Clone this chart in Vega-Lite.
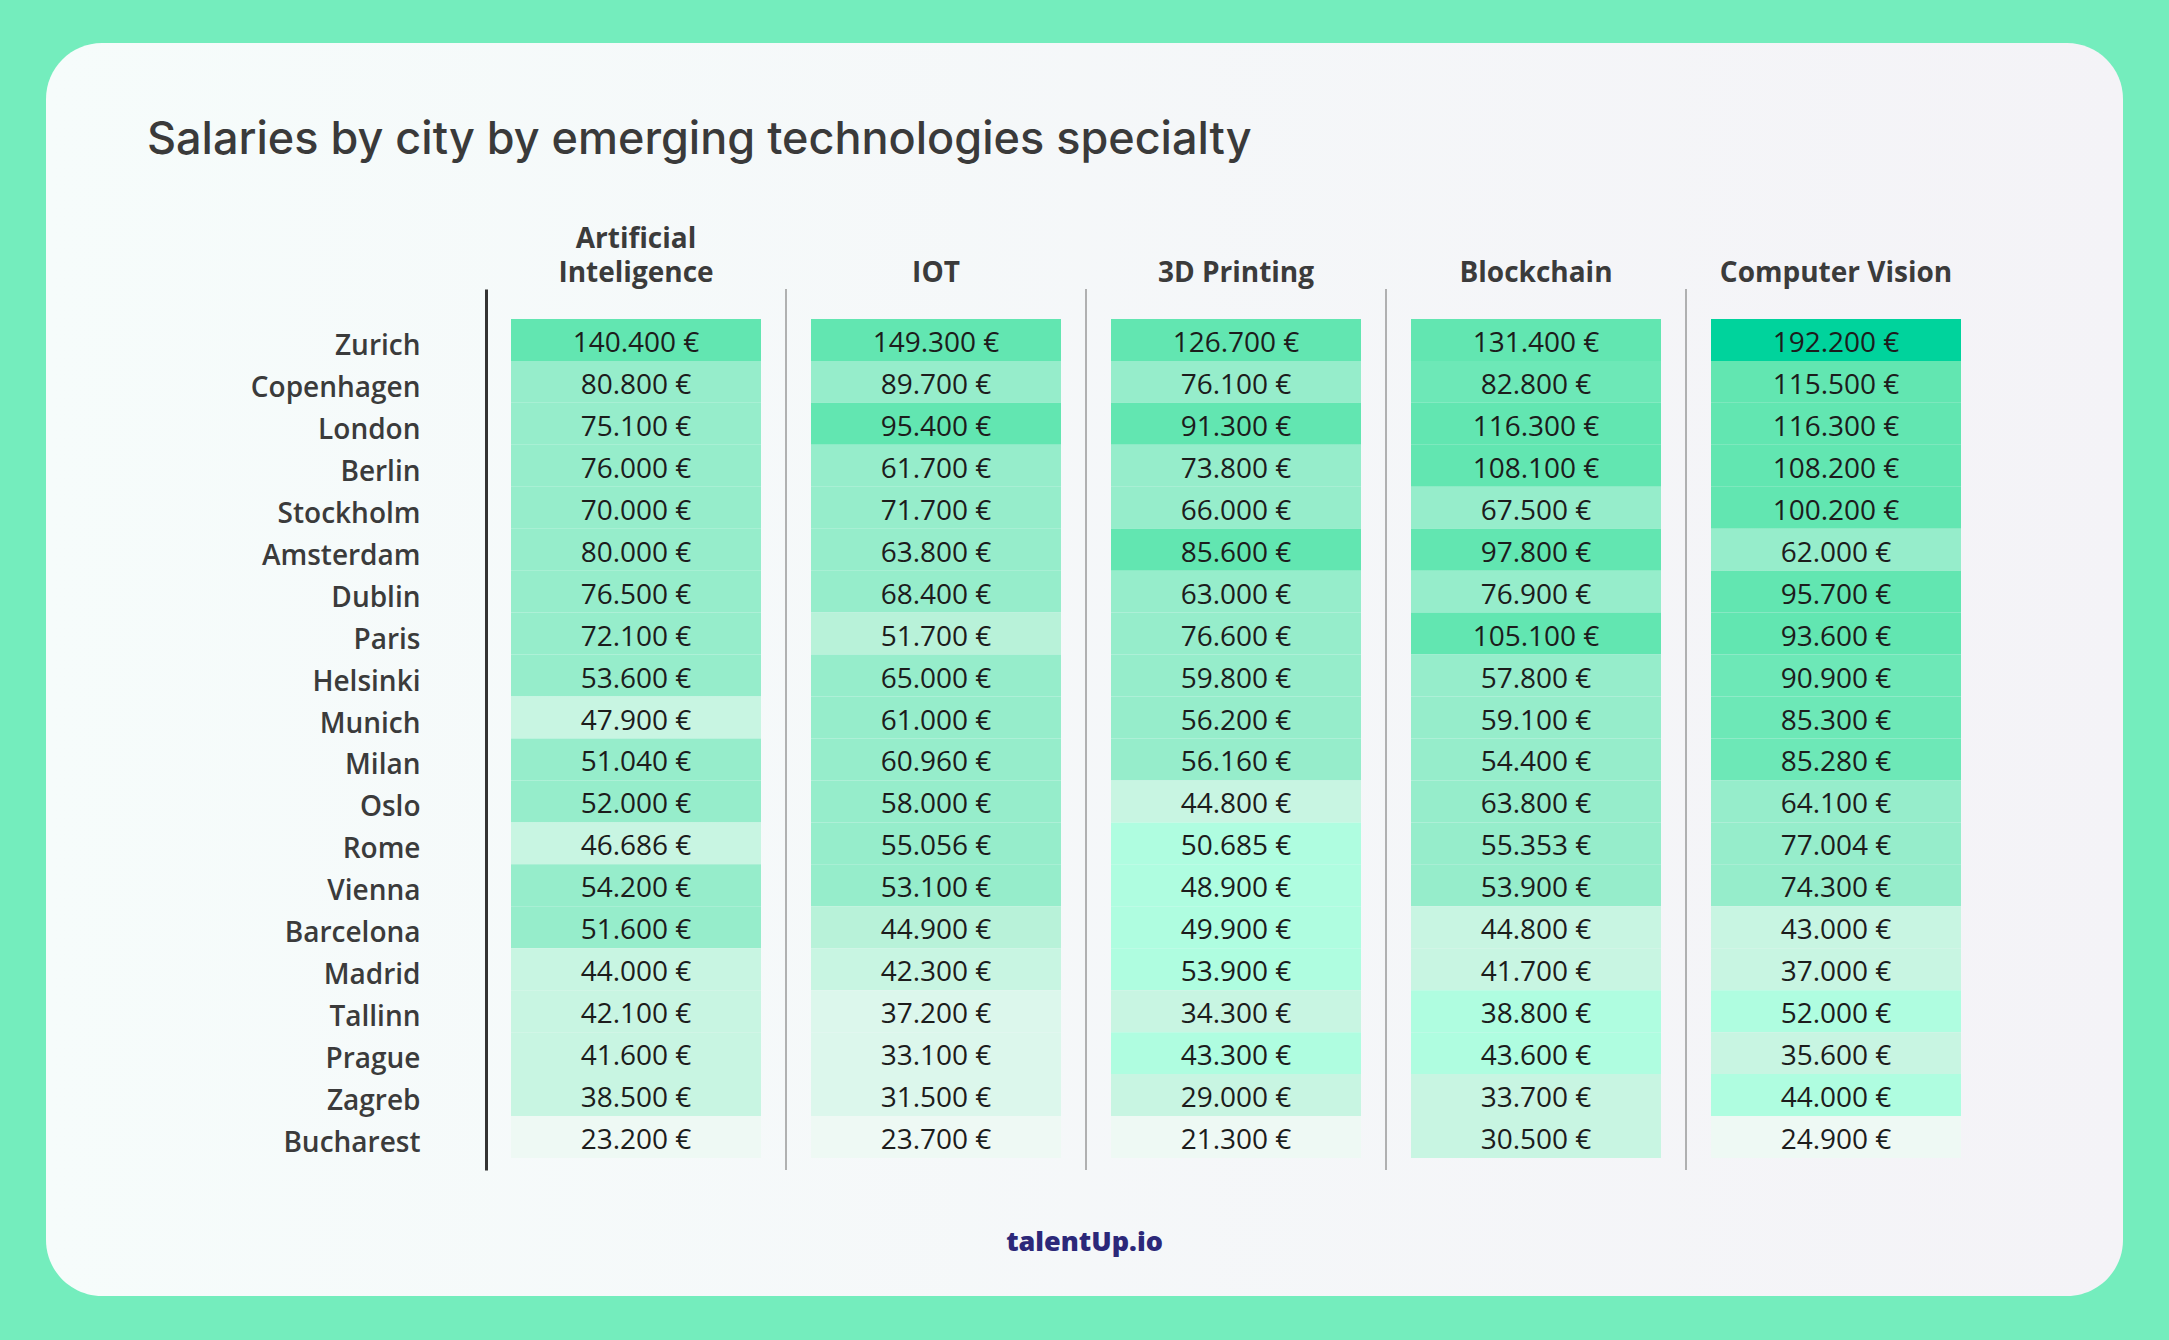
{
  "$schema": "https://vega.github.io/schema/vega-lite/v6.json",
  "width": 2077,
  "height": 1253,
  "autosize": "none",
  "padding": {"left": 46, "top": 43, "right": 46, "bottom": 44},
  "background": "#74edbd",
  "config": {
    "locale": {"number": {"decimal": ",", "thousands": ".", "grouping": [3], "currency": ["", " €"]}},
    "view": {
      "fill": {"gradient": "linear", "x1": 0, "y1": 0, "x2": 1, "y2": 0, "stops": [{"offset": 0, "color": "#f6fcfb"}, {"offset": 1, "color": "#f4f3f7"}]},
      "stroke": null,
      "cornerRadius": 56
    }
  },
  "title": {
    "text": "Salaries by city by emerging technologies specialty",
    "anchor": "start",
    "frame": "group",
    "orient": "top",
    "offset": 0,
    "baseline": "alphabetic",
    "dx": 101,
    "dy": 156,
    "font": "Inter",
    "fontSize": 45,
    "fontWeight": 500,
    "color": "#3a3a3a"
  },
  "datasets": {
    "cells": [
      {"city": "Zurich", "specialty": "Artificial Inteligence", "salary": 140400, "tier": "t2"},
      {"city": "Copenhagen", "specialty": "Artificial Inteligence", "salary": 80800, "tier": "t4"},
      {"city": "London", "specialty": "Artificial Inteligence", "salary": 75100, "tier": "t4"},
      {"city": "Berlin", "specialty": "Artificial Inteligence", "salary": 76000, "tier": "t4"},
      {"city": "Stockholm", "specialty": "Artificial Inteligence", "salary": 70000, "tier": "t4"},
      {"city": "Amsterdam", "specialty": "Artificial Inteligence", "salary": 80000, "tier": "t4"},
      {"city": "Dublin", "specialty": "Artificial Inteligence", "salary": 76500, "tier": "t4"},
      {"city": "Paris", "specialty": "Artificial Inteligence", "salary": 72100, "tier": "t4"},
      {"city": "Helsinki", "specialty": "Artificial Inteligence", "salary": 53600, "tier": "t4"},
      {"city": "Munich", "specialty": "Artificial Inteligence", "salary": 47900, "tier": "t6"},
      {"city": "Milan", "specialty": "Artificial Inteligence", "salary": 51040, "tier": "t4"},
      {"city": "Oslo", "specialty": "Artificial Inteligence", "salary": 52000, "tier": "t4"},
      {"city": "Rome", "specialty": "Artificial Inteligence", "salary": 46686, "tier": "t6"},
      {"city": "Vienna", "specialty": "Artificial Inteligence", "salary": 54200, "tier": "t4"},
      {"city": "Barcelona", "specialty": "Artificial Inteligence", "salary": 51600, "tier": "t4"},
      {"city": "Madrid", "specialty": "Artificial Inteligence", "salary": 44000, "tier": "t6"},
      {"city": "Tallinn", "specialty": "Artificial Inteligence", "salary": 42100, "tier": "t6"},
      {"city": "Prague", "specialty": "Artificial Inteligence", "salary": 41600, "tier": "t6"},
      {"city": "Zagreb", "specialty": "Artificial Inteligence", "salary": 38500, "tier": "t6"},
      {"city": "Bucharest", "specialty": "Artificial Inteligence", "salary": 23200, "tier": "t9"},
      {"city": "Zurich", "specialty": "IOT", "salary": 149300, "tier": "t2"},
      {"city": "Copenhagen", "specialty": "IOT", "salary": 89700, "tier": "t4"},
      {"city": "London", "specialty": "IOT", "salary": 95400, "tier": "t2"},
      {"city": "Berlin", "specialty": "IOT", "salary": 61700, "tier": "t4"},
      {"city": "Stockholm", "specialty": "IOT", "salary": 71700, "tier": "t4"},
      {"city": "Amsterdam", "specialty": "IOT", "salary": 63800, "tier": "t4"},
      {"city": "Dublin", "specialty": "IOT", "salary": 68400, "tier": "t4"},
      {"city": "Paris", "specialty": "IOT", "salary": 51700, "tier": "t5"},
      {"city": "Helsinki", "specialty": "IOT", "salary": 65000, "tier": "t4"},
      {"city": "Munich", "specialty": "IOT", "salary": 61000, "tier": "t4"},
      {"city": "Milan", "specialty": "IOT", "salary": 60960, "tier": "t4"},
      {"city": "Oslo", "specialty": "IOT", "salary": 58000, "tier": "t4"},
      {"city": "Rome", "specialty": "IOT", "salary": 55056, "tier": "t4"},
      {"city": "Vienna", "specialty": "IOT", "salary": 53100, "tier": "t4"},
      {"city": "Barcelona", "specialty": "IOT", "salary": 44900, "tier": "t5"},
      {"city": "Madrid", "specialty": "IOT", "salary": 42300, "tier": "t6"},
      {"city": "Tallinn", "specialty": "IOT", "salary": 37200, "tier": "t8"},
      {"city": "Prague", "specialty": "IOT", "salary": 33100, "tier": "t8"},
      {"city": "Zagreb", "specialty": "IOT", "salary": 31500, "tier": "t8"},
      {"city": "Bucharest", "specialty": "IOT", "salary": 23700, "tier": "t9"},
      {"city": "Zurich", "specialty": "3D Printing", "salary": 126700, "tier": "t2"},
      {"city": "Copenhagen", "specialty": "3D Printing", "salary": 76100, "tier": "t4"},
      {"city": "London", "specialty": "3D Printing", "salary": 91300, "tier": "t2"},
      {"city": "Berlin", "specialty": "3D Printing", "salary": 73800, "tier": "t4"},
      {"city": "Stockholm", "specialty": "3D Printing", "salary": 66000, "tier": "t4"},
      {"city": "Amsterdam", "specialty": "3D Printing", "salary": 85600, "tier": "t2"},
      {"city": "Dublin", "specialty": "3D Printing", "salary": 63000, "tier": "t4"},
      {"city": "Paris", "specialty": "3D Printing", "salary": 76600, "tier": "t4"},
      {"city": "Helsinki", "specialty": "3D Printing", "salary": 59800, "tier": "t4"},
      {"city": "Munich", "specialty": "3D Printing", "salary": 56200, "tier": "t4"},
      {"city": "Milan", "specialty": "3D Printing", "salary": 56160, "tier": "t4"},
      {"city": "Oslo", "specialty": "3D Printing", "salary": 44800, "tier": "t6"},
      {"city": "Rome", "specialty": "3D Printing", "salary": 50685, "tier": "t7"},
      {"city": "Vienna", "specialty": "3D Printing", "salary": 48900, "tier": "t7"},
      {"city": "Barcelona", "specialty": "3D Printing", "salary": 49900, "tier": "t7"},
      {"city": "Madrid", "specialty": "3D Printing", "salary": 53900, "tier": "t7"},
      {"city": "Tallinn", "specialty": "3D Printing", "salary": 34300, "tier": "t6"},
      {"city": "Prague", "specialty": "3D Printing", "salary": 43300, "tier": "t7"},
      {"city": "Zagreb", "specialty": "3D Printing", "salary": 29000, "tier": "t6"},
      {"city": "Bucharest", "specialty": "3D Printing", "salary": 21300, "tier": "t9"},
      {"city": "Zurich", "specialty": "Blockchain", "salary": 131400, "tier": "t2"},
      {"city": "Copenhagen", "specialty": "Blockchain", "salary": 82800, "tier": "t3"},
      {"city": "London", "specialty": "Blockchain", "salary": 116300, "tier": "t2"},
      {"city": "Berlin", "specialty": "Blockchain", "salary": 108100, "tier": "t2"},
      {"city": "Stockholm", "specialty": "Blockchain", "salary": 67500, "tier": "t4"},
      {"city": "Amsterdam", "specialty": "Blockchain", "salary": 97800, "tier": "t2"},
      {"city": "Dublin", "specialty": "Blockchain", "salary": 76900, "tier": "t4"},
      {"city": "Paris", "specialty": "Blockchain", "salary": 105100, "tier": "t2"},
      {"city": "Helsinki", "specialty": "Blockchain", "salary": 57800, "tier": "t4"},
      {"city": "Munich", "specialty": "Blockchain", "salary": 59100, "tier": "t4"},
      {"city": "Milan", "specialty": "Blockchain", "salary": 54400, "tier": "t4"},
      {"city": "Oslo", "specialty": "Blockchain", "salary": 63800, "tier": "t4"},
      {"city": "Rome", "specialty": "Blockchain", "salary": 55353, "tier": "t4"},
      {"city": "Vienna", "specialty": "Blockchain", "salary": 53900, "tier": "t4"},
      {"city": "Barcelona", "specialty": "Blockchain", "salary": 44800, "tier": "t6"},
      {"city": "Madrid", "specialty": "Blockchain", "salary": 41700, "tier": "t6"},
      {"city": "Tallinn", "specialty": "Blockchain", "salary": 38800, "tier": "t7"},
      {"city": "Prague", "specialty": "Blockchain", "salary": 43600, "tier": "t7"},
      {"city": "Zagreb", "specialty": "Blockchain", "salary": 33700, "tier": "t6"},
      {"city": "Bucharest", "specialty": "Blockchain", "salary": 30500, "tier": "t6"},
      {"city": "Zurich", "specialty": "Computer Vision", "salary": 192200, "tier": "t1"},
      {"city": "Copenhagen", "specialty": "Computer Vision", "salary": 115500, "tier": "t2"},
      {"city": "London", "specialty": "Computer Vision", "salary": 116300, "tier": "t2"},
      {"city": "Berlin", "specialty": "Computer Vision", "salary": 108200, "tier": "t2"},
      {"city": "Stockholm", "specialty": "Computer Vision", "salary": 100200, "tier": "t2"},
      {"city": "Amsterdam", "specialty": "Computer Vision", "salary": 62000, "tier": "t4"},
      {"city": "Dublin", "specialty": "Computer Vision", "salary": 95700, "tier": "t2"},
      {"city": "Paris", "specialty": "Computer Vision", "salary": 93600, "tier": "t2"},
      {"city": "Helsinki", "specialty": "Computer Vision", "salary": 90900, "tier": "t3"},
      {"city": "Munich", "specialty": "Computer Vision", "salary": 85300, "tier": "t3"},
      {"city": "Milan", "specialty": "Computer Vision", "salary": 85280, "tier": "t3"},
      {"city": "Oslo", "specialty": "Computer Vision", "salary": 64100, "tier": "t4"},
      {"city": "Rome", "specialty": "Computer Vision", "salary": 77004, "tier": "t4"},
      {"city": "Vienna", "specialty": "Computer Vision", "salary": 74300, "tier": "t4"},
      {"city": "Barcelona", "specialty": "Computer Vision", "salary": 43000, "tier": "t6"},
      {"city": "Madrid", "specialty": "Computer Vision", "salary": 37000, "tier": "t6"},
      {"city": "Tallinn", "specialty": "Computer Vision", "salary": 52000, "tier": "t7"},
      {"city": "Prague", "specialty": "Computer Vision", "salary": 35600, "tier": "t6"},
      {"city": "Zagreb", "specialty": "Computer Vision", "salary": 44000, "tier": "t7"},
      {"city": "Bucharest", "specialty": "Computer Vision", "salary": 24900, "tier": "t9"}
    ]
  },
  "data": {"name": "cells"},
  "encoding": {
    "x": {
      "field": "specialty",
      "type": "nominal",
      "scale": {"domain": ["Artificial Inteligence", "IOT", "3D Printing", "Blockchain", "Computer Vision"], "range": [440, 1940], "paddingInner": 0.16667, "paddingOuter": 0.08333},
      "axis": {
        "orient": "top",
        "offset": -276,
        "title": null,
        "domain": false,
        "ticks": false,
        "tickSize": 0,
        "grid": false,
        "labelAngle": 0,
        "labelAlign": "center",
        "labelBaseline": "bottom",
        "labelPadding": 66,
        "labelFont": "Open Sans",
        "labelFontSize": 28,
        "labelFontWeight": 700,
        "labelColor": "#3b3b3b",
        "labelLineHeight": 34,
        "labelLimit": 0,
        "labelExpr": "datum.value == 'Artificial Inteligence' ? ['Artificial', 'Inteligence'] : ['', datum.value]"
      }
    },
    "y": {
      "field": "city",
      "type": "nominal",
      "scale": {"domain": ["Zurich", "Copenhagen", "London", "Berlin", "Stockholm", "Amsterdam", "Dublin", "Paris", "Helsinki", "Munich", "Milan", "Oslo", "Rome", "Vienna", "Barcelona", "Madrid", "Tallinn", "Prague", "Zagreb", "Bucharest"], "range": [246, 1127], "paddingInner": 0, "paddingOuter": 0.5, "align": 0.714},
      "axis": {
        "offset": -440,
        "title": null,
        "domain": true,
        "domainColor": "#333333",
        "domainWidth": 3,
        "ticks": false,
        "tickSize": 0,
        "grid": false,
        "labelPadding": 66,
        "labelFont": "Open Sans",
        "labelFontSize": 28,
        "labelFontWeight": 600,
        "labelColor": "#3b3b3b",
        "labelOffset": 7,
        "labelLimit": 0
      }
    }
  },
  "layer": [
    {
      "mark": {"type": "rect"},
      "encoding": {
        "color": {
          "field": "tier",
          "type": "ordinal",
          "legend": null,
          "scale": {
            "domain": ["t1", "t2", "t3", "t4", "t5", "t6", "t7", "t8", "t9"],
            "range": ["#00d39c", "#62e6b1", "#6de8b7", "#96edcb", "#b8f2d9", "#c8f5e2", "#affde0", "#dcf7ec", "#eef9f4"]
          }
        }
      }
    },
    {
      "mark": {"type": "text", "font": "Open Sans", "fontSize": 28, "fontWeight": 400, "color": "#1c1c1c", "baseline": "middle", "align": "center", "dy": 4},
      "encoding": {
        "x": {
          "field": "specialty",
          "type": "nominal",
          "scale": {"domain": ["Artificial Inteligence", "IOT", "3D Printing", "Blockchain", "Computer Vision"], "range": [440, 1940], "paddingInner": 0.16667, "paddingOuter": 0.08333},
          "axis": {
            "orient": "bottom",
            "title": "talentUp.io",
            "labels": false,
            "ticks": false,
            "domain": false,
            "grid": false,
            "titleFont": "Open Sans",
            "titleFontSize": 27,
            "titleFontWeight": 800,
            "titleColor": "#2c2879",
            "titleX": 1038,
            "titleY": -46,
            "titleAlign": "center",
            "titleBaseline": "alphabetic"
          }
        },
        "text": {"field": "salary", "type": "quantitative", "format": "$,.0f"}
      }
    },
    {
      "data": {"values": [{"specialty": "IOT"}, {"specialty": "3D Printing"}, {"specialty": "Blockchain"}, {"specialty": "Computer Vision"}]},
      "mark": {"type": "rule", "color": "#8a8a8a", "strokeWidth": 1.3, "xOffset": -25, "yOffset": -51, "y2Offset": 33},
      "encoding": {
        "x": {"field": "specialty", "type": "nominal", "bandPosition": 0, "axis": null},
        "y": {"datum": "Zurich", "type": "nominal", "title": null},
        "y2": {"datum": "Bucharest"}
      }
    }
  ],
  "resolve": {"axis": {"x": "independent"}}
}
